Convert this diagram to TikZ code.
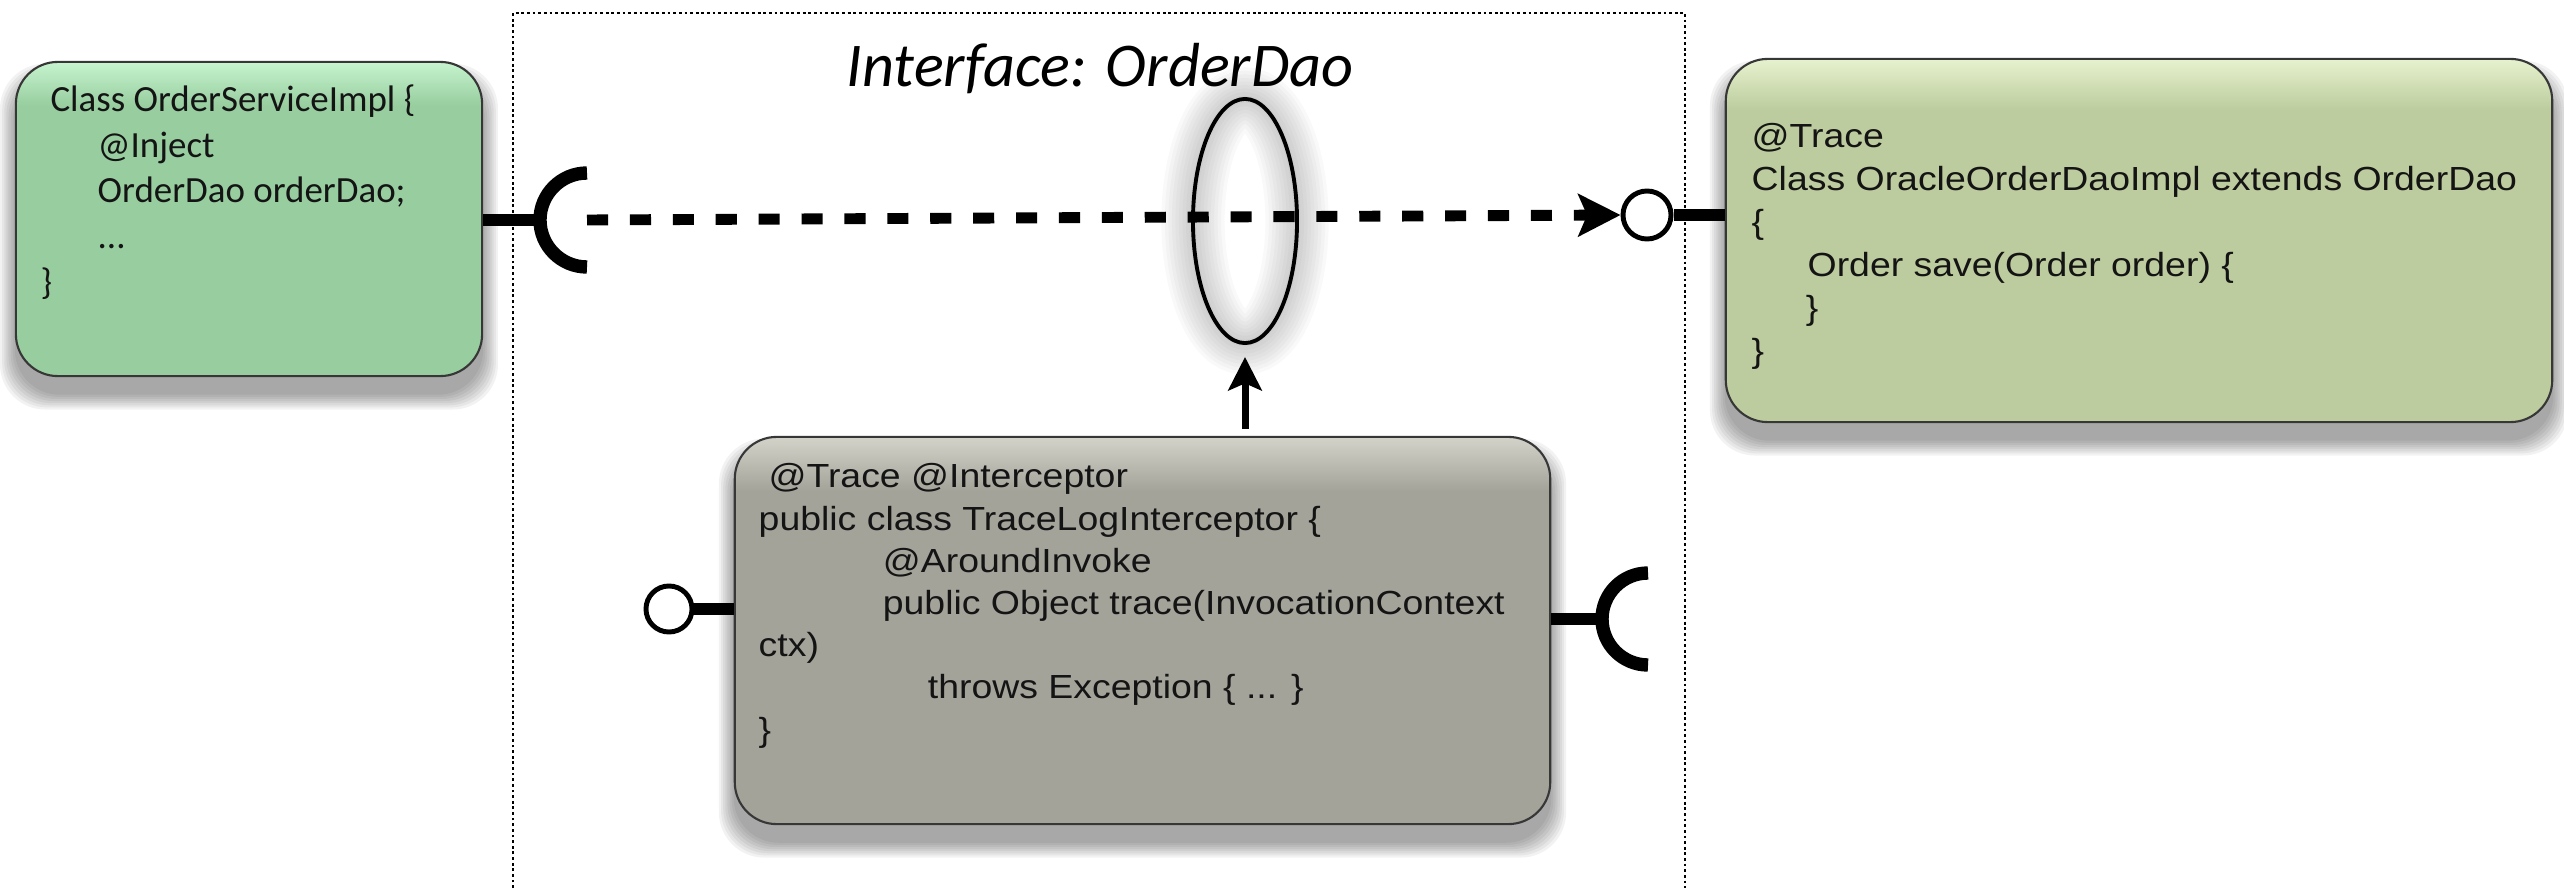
\documentclass[tikz,border=0pt]{standalone}
\usepackage{fontspec}
\usetikzlibrary{arrows.meta,shapes.geometric,backgrounds}

\newfontfamily\calibri{Carlito}
\newfontfamily\arial[FakeStretch=1.12]{Liberation Sans}

\definecolor{svcfill}{RGB}{151,205,159}
\definecolor{svctop}{RGB}{198,244,206}
\definecolor{daofill}{RGB}{189,204,158}
\definecolor{daotop}{RGB}{230,242,206}
\definecolor{icpfill}{RGB}{164,163,154}
\definecolor{icptop}{RGB}{212,211,202}
\definecolor{edge}{RGB}{55,55,55}

% light strip along the top of each class box
\pgfdeclareverticalshading{svcshade}{100bp}{color(0bp)=(svcfill); color(68bp)=(svcfill); color(75bp)=(svctop); color(100bp)=(svctop)}
\pgfdeclareverticalshading{daoshade}{100bp}{color(0bp)=(daofill); color(68bp)=(daofill); color(75bp)=(daotop); color(100bp)=(daotop)}
\pgfdeclareverticalshading{icpshade}{100bp}{color(0bp)=(icpfill); color(68bp)=(icpfill); color(75bp)=(icptop); color(100bp)=(icptop)}

\tikzset{
classbox/.style={draw=edge, line width=0.6pt, rounded corners=0.42cm, inner sep=0pt},
codetext/.style={anchor=north west, align=left, inner sep=0pt, text=black!92},
stem/.style={line width=3.6pt},
cup/.style={line width=3.8pt},
lolly/.style={circle, draw, line width=1.4pt, fill=white, minimum size=0.48cm, inner sep=0pt},
wire/.style={line width=3.1pt, dash pattern=on 6pt off 6.2pt, -{Stealth[length=12pt,width=12pt,inset=2.5pt]}}
}

\begin{document}
\begin{tikzpicture}[x=0.01cm, y=-0.01cm]
\useasboundingbox (0,0) rectangle (2564,888);

% interface frame
\draw [line width=0.45pt, dash pattern=on 0.8pt off 0.8pt] (513,888) -- (513,13) -- (1685,13) -- (1685,888);

\node [anchor=base, font=\calibri\itshape\fontsize{17.7}{20}\selectfont] (title) at (1100,87) {Interface: OrderDao};

% classes
\node [classbox, shade, shading=svcshade, minimum width=4.66cm, minimum height=3.14cm] (svc) at (249,219) {};
\node [classbox, shade, shading=daoshade, minimum width=8.26cm, minimum height=3.63cm] (dao) at (2139,240.5) {};
\node [classbox, shade, shading=icpshade, minimum width=8.15cm, minimum height=3.87cm] (icp) at (1142.5,630.5) {};

\node [codetext, font=\calibri\fontsize{10.5}{13}\selectfont] (svctext) at (40,84)
{\hspace*{2.8pt}Class OrderServiceImpl \{\\
\hspace*{16.2pt}@Inject\\
\hspace*{16.2pt}OrderDao orderDao;\\
\hspace*{16.2pt}...\\
\}};

\node [codetext, font=\arial\fontsize{9.5}{12.2}\selectfont] (daotext) at (1751,123)
{@Trace\\
Class OracleOrderDaoImpl extends OrderDao\\
\{\\
\hspace*{15.9pt}Order save(Order order) \{\\
\hspace*{15.4pt}\}\\
\}};

\node [codetext, font=\arial\fontsize{9.5}{12}\selectfont] (icptext) at (758,463)
{\hspace*{2.8pt}@Trace @Interceptor\\
public class TraceLogInterceptor \{\\
\hspace*{35.3pt}@AroundInvoke\\
\hspace*{35.3pt}public Object trace(InvocationContext\\
ctx)\\
\hspace*{48.1pt}throws Exception \{ ... \}\\
\}};

% interface ring
\node [ellipse, draw, line width=1.1pt, minimum width=1.04cm, minimum height=2.44cm, inner sep=0pt] (iface) at (1245,221) {};

% soft shadows
\begin{scope}[on background layer]
\foreach \b in {svc,dao,icp}{
\foreach \s in {0,...,7}{
\fill [black, opacity=0.05, rounded corners=0.45cm] ([xshift=-\s*0.6pt, yshift=-5pt-\s*0.6pt]\b.south west) rectangle ([xshift=\s*0.6pt, yshift=-5pt+\s*0.6pt]\b.north east);
}
}
\foreach \w in {2,4,...,18}{
\draw [black, opacity=0.022, line width=\w pt] (iface.center) ellipse [x radius=52, y radius=122];
}
\end{scope}

% provided ports
\node [lolly] (daoport) at (1647,215) {};
\node [lolly, minimum size=0.46cm] (icpport) at (669,609) {};
\draw [stem] (dao.west |- daoport) -- (daoport);
\draw [stem] (icp.west |- icpport) -- (icpport);

% required ports
\coordinate (svcsock) at (587,220);
\coordinate (icpsock) at (1648,619);
\draw [stem] (svc.east |- svcsock) -- ([xshift=-0.47cm]svcsock);
\draw [cup] (svcsock) ++(0,-47) arc [start angle=270, end angle=90, radius=47];
\draw [stem] (icp.east |- icpsock) -- ([xshift=-0.46cm]icpsock);
\draw [cup] (icpsock) ++(0,-46) arc [start angle=270, end angle=90, radius=46];

\draw [wire] (svcsock) -- (daoport.west);
\draw [line width=2pt, -{Stealth[length=9.5pt,width=9.5pt,inset=2pt]}, shorten <=2pt, shorten >=3.4pt] (icp.north -| iface.south) -- (iface.south);

\end{tikzpicture}
\end{document}
